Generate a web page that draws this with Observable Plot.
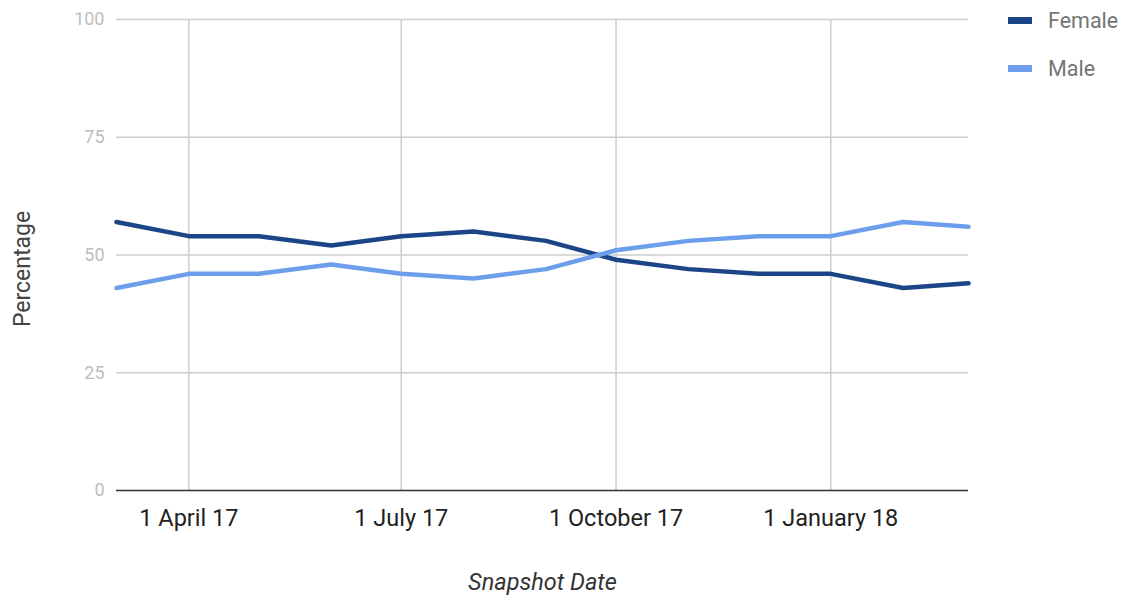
<!DOCTYPE html>
<html>
<head>
<meta charset="utf-8">
<script src="https://cdn.jsdelivr.net/npm/d3@7"></script>
<script src="https://cdn.jsdelivr.net/npm/@observablehq/plot@0.6"></script>
<style>
  body { margin: 0; background: #fff; font-family: Roboto, sans-serif; }
  #wrap { position: relative; width: 1126px; height: 598px; }
  #legend { position: absolute; left: 1008px; top: 7px; font-family: Roboto, sans-serif; font-size: 21.5px; color: #757575; }
  .item { display: flex; align-items: center; height: 26px; margin-bottom: 22px; }
  .sw { width: 24px; height: 7px; margin-right: 16px; }
</style>
</head>
<body>
<div id="wrap"><div id="legend"></div></div>
<script>
const dates = ["2017-03-01","2017-04-01","2017-05-01","2017-06-01","2017-07-01","2017-08-01","2017-09-01","2017-10-01","2017-11-01","2017-12-01","2018-01-01","2018-02-01","2018-03-01"];
const female = [57, 54, 54, 52, 54, 55, 53, 49, 47, 46, 46, 43, 44];
const male = [43, 46, 46, 48, 46, 45, 47, 51, 53, 54, 54, 57, 56];
const seriesNames = ["Female", "Male"];
const seriesColors = ["#1c4587", "#6d9eeb"];
const xTicks = ["2017-04-01","2017-07-01","2017-10-01","2018-01-01"];
const yTicks = [0, 25, 50, 75, 100];

const parse = d3.utcParse("%Y-%m-%d");
const data = [];
dates.forEach((d, i) => {
  data.push({date: parse(d), value: female[i], series: "Female"});
  data.push({date: parse(d), value: male[i], series: "Male"});
});
const fmt = d3.utcFormat("%-d %B %y");

const chart = Plot.plot({
  width: 1126,
  height: 598,
  marginLeft: 116,
  marginRight: 158,
  marginTop: 19,
  marginBottom: 108,
  style: {fontFamily: "Roboto, sans-serif", background: "#fff", overflow: "visible"},
  x: {type: "utc", domain: [parse(dates[0]), parse(dates[dates.length - 1])]},
  y: {domain: [0, 100]},
  color: {domain: seriesNames, range: seriesColors},
  marks: [
    Plot.ruleY(yTicks.slice(1), {stroke: "#cccccc", strokeWidth: 1.5}),
    Plot.ruleX(xTicks.map(parse), {stroke: "#cccccc", strokeWidth: 1.5}),
    Plot.axisY({ticks: yTicks, tickSize: 0, tickPadding: 12, fontSize: 18, color: "#bdbdbd", label: null}),
    Plot.axisX({ticks: xTicks.map(parse), tickFormat: fmt, tickSize: 0, tickPadding: 19, fontSize: 23.5, color: "#222", label: null}),
    Plot.line(data, {x: "date", y: "value", stroke: "series", strokeWidth: 4.5, z: "series"}),
    Plot.ruleY([0], {stroke: "#333", strokeWidth: 1.5}),
    Plot.text(["Percentage"], {frameAnchor: "left", textAnchor: "middle", dx: -94, dy: 14, rotate: -90, fontSize: 23, fill: "#444"}),
    Plot.text(["Snapshot Date"], {frameAnchor: "bottom", dy: 99, fontSize: 23.5, fill: "#333", fontStyle: "italic"})
  ]
});
document.getElementById("wrap").prepend(chart);

const legend = document.getElementById("legend");
seriesNames.forEach((n, i) => {
  const it = document.createElement("div");
  it.className = "item";
  it.innerHTML = `<div class="sw" style="background:${seriesColors[i]}"></div><span>${n}</span>`;
  legend.appendChild(it);
});
</script>
</body>
</html>
